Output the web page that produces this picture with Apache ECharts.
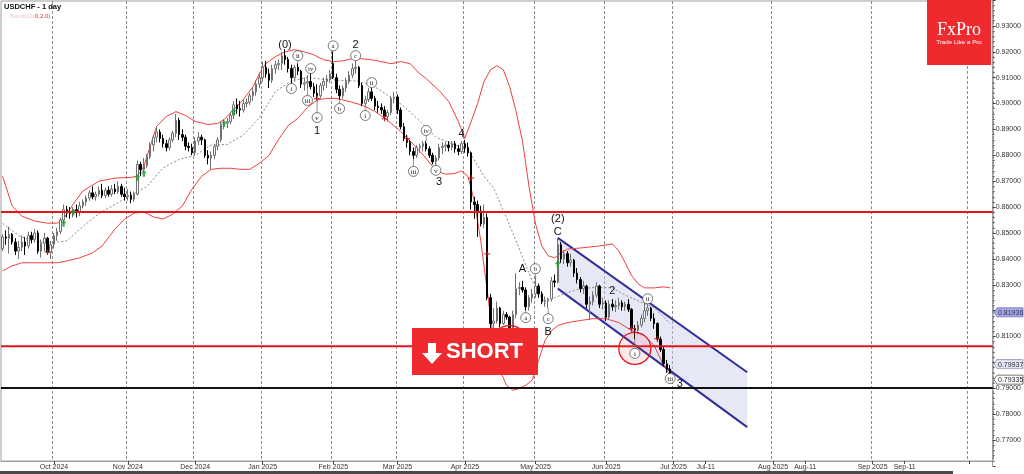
<!DOCTYPE html>
<html><head><meta charset="utf-8">
<script src="https://cdn.jsdelivr.net/npm/echarts@6/dist/echarts.min.js"></script>
<style>html,body{margin:0;padding:0;background:#fff}#c{width:1024px;height:474px}</style>
</head><body><div id="c"></div>
<script>
// ---------- categories (trading days, then calendar days in the future area) ----------
const holidays = ['2024-12-25','2025-01-01'];
const firstDay = '2024-09-09', lastBarDay = '2025-06-30', lastDay = '2025-10-08';
const tickLabels = {'2024-10-01':'Oct 2024','2024-11-01':'Nov 2024','2024-12-02':'Dec 2024','2025-01-02':'Jan 2025','2025-02-03':'Feb 2025','2025-03-03':'Mar 2025','2025-04-01':'Apr 2025','2025-05-01':'May 2025','2025-06-02':'Jun 2025','2025-07-01':'Jul 2025','2025-07-11':'Jul-11','2025-08-01':'Aug 2025','2025-08-11':'Aug-11','2025-09-01':'Sep 2025','2025-09-11':'Sep-11','2025-10-01':''};
const monthStarts = ['2024-10-01','2024-11-01','2024-12-02','2025-01-02','2025-02-03','2025-03-03','2025-04-01','2025-05-01','2025-06-02','2025-07-01','2025-08-01','2025-09-01','2025-10-01'];

// ---------- price data ----------
const opens = [.8440,.8485,.8480,.8495,.8465,.8430,.8445,.8465,.8450,.8490,
.8475,.8500,.8430,.8460,.8480,.8425,.8455,.8490,.8505,.8550,
.8590,.8580,.8575,.8590,.8580,.8605,.8620,.8635,.8655,.8640,
.8650,.8665,.8645,.8665,.8650,.8670,.8660,.8680,.8650,.8640,
.8645,.8630,.8650,.8765,.8745,.8760,.8795,.8840,.8870,.8890,
.8865,.8845,.8830,.8860,.8885,.8935,.8880,.8870,.8835,.8830,
.8810,.8855,.8870,.8860,.8800,.8790,.8800,.8835,.8860,.8920,
.8925,.8930,.8955,.8995,.8980,.8975,.9000,.9005,.9030,.9045,
.9075,.9100,.9140,.9115,.9090,.9135,.9150,.9155,.9185,.9170,
.9135,.9100,.9140,.9125,.9075,.9080,.9085,.9065,.9040,.9030,
.9070,.9085,.9095,.9155,.9100,.9055,.9030,.9060,.9085,.9110,
.9135,.9140,.9070,.9000,.9015,.9045,.9020,.8990,.8985,.8975,
.8950,.8965,.9020,.9025,.8975,.8910,.8865,.8850,.8815,.8800,
.8830,.8835,.8845,.8825,.8800,.8775,.8790,.8830,.8835,.8840,
.8830,.8845,.8825,.8815,.8845,.8830,.8810,.8620,.8610,.8585,
.8535,.8560,.8250,.8150,.8160,.8210,.8150,.8185,.8175,.8060,
.8185,.8285,.8290,.8280,.8215,.8250,.8265,.8295,.8265,.8235,
.8240,.8245,.8315,.8310,.8455,.8400,.8420,.8385,.8395,.8345,
.8320,.8285,.8295,.8225,.8235,.8260,.8295,.8225,.8230,.8175,
.8225,.8215,.8220,.8230,.8215,.8225,.8205,.8130,.8125,.8145,
.8170,.8200,.8210,.8170,.8150,.8090,.8050,.7995,.7975];
const highs = [.8495,.8510,.8525,.8500,.8480,.8470,.8490,.8485,.8505,.8505,
.8515,.8510,.8475,.8500,.8485,.8470,.8500,.8520,.8560,.8610,
.8605,.8600,.8600,.8610,.8620,.8630,.8645,.8665,.8680,.8660,
.8680,.8690,.8675,.8680,.8685,.8690,.8700,.8690,.8675,.8670,
.8660,.8660,.8780,.8775,.8790,.8805,.8850,.8880,.8910,.8900,
.8880,.8860,.8870,.8895,.8960,.8945,.8900,.8880,.8850,.8845,
.8870,.8890,.8880,.8865,.8820,.8815,.8845,.8870,.8930,.8940,
.8945,.8965,.9010,.9020,.9010,.9015,.9020,.9040,.9060,.9090,
.9120,.9160,.9165,.9135,.9150,.9165,.9170,.9200,.9210,.9180,
.9150,.9150,.9155,.9130,.9100,.9110,.9120,.9080,.9075,.9080,
.9100,.9110,.9130,.9200,.9115,.9070,.9070,.9100,.9125,.9155,
.9165,.9145,.9080,.9030,.9060,.9060,.9030,.9010,.9000,.8990,
.8975,.9030,.9045,.9035,.8985,.8925,.8880,.8860,.8830,.8840,
.8845,.8855,.8855,.8835,.8810,.8800,.8845,.8850,.8850,.8855,
.8855,.8855,.8840,.8855,.8860,.8850,.8815,.8640,.8625,.8605,
.8610,.8575,.8265,.8210,.8235,.8215,.8200,.8195,.8180,.8200,
.8345,.8310,.8315,.8290,.8260,.8285,.8330,.8305,.8275,.8255,
.8250,.8330,.8340,.8480,.8465,.8435,.8430,.8420,.8400,.8365,
.8330,.8315,.8300,.8255,.8275,.8310,.8300,.8250,.8240,.8240,
.8245,.8240,.8250,.8240,.8235,.8245,.8210,.8145,.8160,.8185,
.8240,.8225,.8215,.8190,.8155,.8100,.8060,.8010,.7990];
const lows = [.8430,.8455,.8420,.8455,.8415,.8400,.8430,.8415,.8440,.8460,
.8465,.8420,.8405,.8430,.8415,.8400,.8440,.8470,.8495,.8535,
.8560,.8555,.8560,.8560,.8565,.8595,.8605,.8625,.8630,.8625,
.8640,.8635,.8635,.8640,.8640,.8650,.8650,.8640,.8625,.8625,
.8615,.8620,.8645,.8720,.8735,.8750,.8785,.8815,.8850,.8850,
.8830,.8815,.8820,.8850,.8870,.8860,.8855,.8820,.8815,.8800,
.8800,.8840,.8840,.8790,.8765,.8745,.8785,.8820,.8850,.8900,
.8905,.8920,.8940,.8960,.8950,.8965,.8985,.8995,.9010,.9030,
.9060,.9085,.9100,.9060,.9080,.9115,.9130,.9130,.9150,.9120,
.9075,.9085,.9110,.9060,.9050,.9060,.9055,.9025,.9015,.9020,
.9050,.9060,.9080,.9095,.9040,.9015,.9020,.9045,.9075,.9100,
.9115,.9060,.8990,.8990,.9005,.9010,.8975,.8965,.8960,.8935,
.8930,.8955,.9000,.8960,.8900,.8855,.8830,.8800,.8785,.8790,
.8810,.8815,.8815,.8790,.8765,.8760,.8780,.8805,.8815,.8815,
.8820,.8810,.8800,.8805,.8810,.8795,.8590,.8555,.8485,.8525,
.8520,.8240,.8110,.8130,.8150,.8135,.8145,.8165,.8040,.8050,
.8170,.8260,.8270,.8200,.8200,.8230,.8250,.8250,.8225,.8215,
.8210,.8235,.8290,.8305,.8385,.8380,.8370,.8370,.8330,.8305,
.8270,.8265,.8210,.8165,.8220,.8250,.8210,.8205,.8160,.8165,
.8200,.8195,.8205,.8200,.8200,.8195,.8120,.8090,.8110,.8135,
.8155,.8180,.8160,.8130,.8080,.8040,.7985,.7960,.7925];
const closes = [.8485,.8480,.8495,.8465,.8430,.8445,.8465,.8450,.8490,.8475,
.8500,.8430,.8460,.8480,.8425,.8455,.8490,.8505,.8550,.8590,
.8580,.8575,.8590,.8580,.8605,.8620,.8635,.8655,.8640,.8650,
.8665,.8645,.8665,.8650,.8670,.8660,.8680,.8650,.8640,.8645,
.8630,.8650,.8765,.8745,.8760,.8795,.8840,.8870,.8890,.8865,
.8845,.8830,.8860,.8885,.8935,.8880,.8870,.8835,.8830,.8810,
.8855,.8870,.8860,.8800,.8790,.8800,.8835,.8860,.8920,.8925,
.8930,.8955,.8995,.8980,.8975,.9000,.9005,.9030,.9045,.9075,
.9100,.9140,.9115,.9090,.9135,.9150,.9155,.9185,.9170,.9135,
.9100,.9140,.9125,.9075,.9080,.9085,.9065,.9040,.9030,.9070,
.9085,.9095,.9115,.9100,.9055,.9030,.9060,.9085,.9110,.9135,
.9140,.9070,.9000,.9015,.9045,.9020,.8990,.8985,.8975,.8950,
.8965,.9020,.9025,.8975,.8910,.8865,.8850,.8815,.8800,.8830,
.8835,.8845,.8825,.8800,.8775,.8790,.8830,.8835,.8840,.8830,
.8845,.8825,.8815,.8845,.8830,.8810,.8620,.8610,.8585,.8535,
.8560,.8250,.8150,.8160,.8210,.8150,.8185,.8175,.8060,.8185,
.8285,.8290,.8280,.8215,.8250,.8265,.8295,.8265,.8235,.8240,
.8245,.8315,.8310,.8455,.8400,.8420,.8385,.8395,.8345,.8320,
.8285,.8295,.8225,.8235,.8260,.8295,.8225,.8230,.8175,.8225,
.8215,.8220,.8230,.8215,.8225,.8205,.8130,.8125,.8145,.8170,
.8200,.8210,.8170,.8150,.8090,.8050,.7995,.7975,.79335];

// Bollinger bands (20, 2.0): [bar index, value]
const bandUpper = [[0,.8719],[3,.8604],[6,.8565],[10,.8546],[14,.8538],[17,.8538],[19,.8554],[22,.8612],[25,.8662],[30,.8700],[35,.8712],[40,.8715],[42,.8719],[44,.8758],[46,.8835],[48,.8912],[51,.8950],[54,.8969],[57,.8954],[60,.8931],[64,.8919],[67,.8923],[69,.8938],[72,.8977],[75,.9015],[78,.9065],[80,.9115],[82,.9154],[85,.9181],[88,.9200],[91,.9208],[94,.9200],[97,.9188],[100,.9169],[103,.9162],[106,.9165],[109,.9173],[112,.9173],[115,.9169],[118,.9162],[121,.9154],[124,.9162],[127,.9154],[130,.9115],[132,.9096],[136,.9050],[139,.9008],[142,.8931],[144,.8865],[146,.8931],[148,.9000],[150,.9085],[152,.9130],[154,.9146],[156,.9131],[158,.9065],[160,.8969],[162,.8854],[164,.8681],[166,.8538],[168,.8450],[170,.8412],[172,.8404],[174,.8423],[176,.8438],[180,.8442],[186,.8450],[190,.8458],[192,.8431],[194,.8385],[196,.8335],[198,.8304],[200,.8288],[203,.8288],[206,.8292],[208,.8288]];
const bandLower = [[0,.8354],[3,.8373],[6,.8385],[10,.8385],[14,.8385],[17,.8385],[20,.8392],[24,.8404],[28,.8423],[31,.8450],[35,.8515],[38,.8554],[41,.8577],[44,.8581],[47,.8562],[50,.8554],[53,.8573],[56,.8604],[59,.8669],[62,.8719],[65,.8746],[68,.8750],[71,.8750],[74,.8746],[77,.8746],[80,.8769],[83,.8800],[86,.8862],[89,.8915],[92,.8943],[95,.8985],[98,.9014],[101,.9020],[104,.9020],[108,.9008],[112,.8994],[116,.8970],[120,.8935],[124,.8892],[128,.8842],[132,.8788],[135,.8740],[138,.8727],[141,.8730],[143,.8740],[145,.8719],[147,.8623],[149,.8469],[151,.8277],[153,.8085],[155,.7969],[157,.7912],[159,.7892],[161,.7900],[163,.7912],[165,.7931],[167,.8008],[169,.8085],[171,.8123],[173,.8142],[176,.8154],[180,.8162],[184,.8169],[188,.8169],[192,.8154],[196,.8123],[200,.8104],[203,.8065],[206,.7988],[208,.7950]];
const bandMiddle = [[0,.8537],[5,.8490],[10,.8466],[15,.8462],[20,.8470],[25,.8525],[30,.8575],[35,.8610],[40,.8646],[45,.8680],[50,.8752],[55,.8784],[60,.8800],[65,.8840],[70,.8842],[75,.8878],[80,.8945],[85,.9046],[90,.9088],[95,.9100],[100,.9094],[105,.9090],[110,.9087],[115,.9072],[120,.9033],[125,.8990],[130,.8932],[135,.8870],[140,.8845],[145,.8823],[150,.8720],[153,.8673],[157,.8560],[160,.8469],[165,.8315],[169,.8227],[172,.8250],[176,.8270],[180,.8285],[185,.8290],[190,.8288],[194,.8260],[198,.8238],[203,.8212],[208,.8150]];

// levels, channel, marks
const hRedLevels = [.8581, .8063];
const hBlackLevels = [.7901];
const chanIdx = [173, 232];
const chanUpper = [.8481, .7962];
const chanLower = [.8285, .7750];
const circIdx = [197, 158];
const circVal = [.8054, .8073];
const tagVals = [.81936, .79937, .79335];
const greenIdx = [19,22,42,44,69,72,173];
const greenVal = [.8538,.8581,.8715,.8731,.8923,.8969,.8381];
const redIdx = [14,98,119,126,146,151,196,204];
const redVal = [.8427,.9019,.8942,.8865,.8712,.8419,.8131,.8092];

// wave labels
const waveText = ['i','ii','iii','iv','v','a','b','c','i','ii','iii','iv','v','a','b','c','i','ii','iii'];
const waveIdx = [90,92,95,96,98,103,105,110,113,115,128,132,135,163,166,170,197,201,208];
const waveVal = [.9058,.9185,.9012,.9135,.8946,.9223,.8981,.9185,.8954,.9081,.8738,.8896,.8742,.8173,.8362,.8169,.8035,.8246,.7938];
const waveAnchor = [.9075,.9155,.9060,.9120,.9015,.9200,.9015,.9165,.8990,.9060,.8785,.8855,.8770,.8200,.8330,.8210,.8090,.8225,.7938];
const bigText = ['(0)','1','2','3','4','A','B','C','(2)','2','3'];
const bigIdx = [88,98,110,136,143,162,170,173,173,190,211];
const bigVal = [.9227,.8896,.9227,.8696,.8881,.8362,.8119,.8504,.8554,.8277,.7915];

// ---------- build categories ----------
const cats = [];
{
  let t = Date.parse(firstDay + 'T00:00:00Z');
  const tLast = Date.parse(lastBarDay + 'T00:00:00Z'), tEnd = Date.parse(lastDay + 'T00:00:00Z');
  while (t <= tEnd) {
    const d = new Date(t), s = d.toISOString().slice(0,10), wd = d.getUTCDay();
    if (t > tLast || (wd !== 0 && wd !== 6 && holidays.indexOf(s) < 0)) cats.push(s);
    t += 86400000;
  }
}
const candles = opens.map((o,i)=>[o, closes[i], lows[i], highs[i]]);
const levels = hRedLevels.map(v=>[0, v, 0]).concat(hBlackLevels.map(v=>[0, v, 1]));

const chart = echarts.init(document.getElementById('c'), null, {renderer:'canvas'});
const RED = '#ee2a2f';

const option = {
  animation: false,
  backgroundColor: '#ffffff',
  grid: [
    {left: 1, top: -2, width: 992, height: 468},
    {left: 1, top: 1, width: 992, height: 460, show: true, borderColor: '#9d9d9d', borderWidth: 1, backgroundColor: 'transparent'}
  ],
  xAxis: [
    {type:'category', gridIndex:0, data:cats, boundaryGap:true, show:false},
    {type:'category', gridIndex:1, data:cats, boundaryGap:true,
     axisLine:{show:true, lineStyle:{color:'#9d9d9d'}},
     axisTick:{show:true, alignWithLabel:true, interval:(i,v)=> v in tickLabels, length:3, lineStyle:{color:'#444'}},
     axisLabel:{show:true, interval:(i,v)=> v in tickLabels, formatter:v=> tickLabels[v] || '', fontSize:7, color:'#333', margin:3, fontFamily:'Liberation Sans'},
     splitLine:{show:true, interval:(i,v)=> monthStarts.indexOf(v) >= 0, lineStyle:{color:'#8c8c8c', type:[3,2], width:1}}}
  ],
  yAxis: [
    {type:'value', gridIndex:0, position:'right', min:0.76, max:0.94, interval:0.01, scale:true,
     axisLine:{show:true, lineStyle:{color:'#9d9d9d'}},
     axisTick:{show:true, length:3, lineStyle:{color:'#444'}},
     minorTick:{show:true, splitNumber:5, length:2, lineStyle:{color:'#666'}},
     axisLabel:{showMinLabel:false, showMaxLabel:false, formatter:v=>v.toFixed(5), fontSize:7, color:'#333', margin:3, fontFamily:'Liberation Sans'},
     splitLine:{show:false}},
    {type:'value', gridIndex:1, min:0, max:1, show:false}
  ],
  series: [
    { // channel fill
      type:'custom', xAxisIndex:0, yAxisIndex:0, z:1, silent:true,
      data:[[chanIdx[0], chanUpper[0]]],
      renderItem:(p, api)=>{
        const a = api.coord([chanIdx[0], chanUpper[0]]), b = api.coord([chanIdx[1], chanUpper[1]]);
        const c = api.coord([chanIdx[1], chanLower[1]]), d = api.coord([chanIdx[0], chanLower[0]]);
        return {type:'group', children:[
          {type:'polygon', shape:{points:[a,b,c,d]}, style:{fill:'rgba(200,204,235,0.45)', stroke:null}},
          {type:'line', shape:{x1:a[0],y1:a[1],x2:b[0],y2:b[1]}, style:{stroke:'#2d2f9a', lineWidth:2}},
          {type:'line', shape:{x1:d[0],y1:d[1],x2:c[0],y2:c[1]}, style:{stroke:'#2d2f9a', lineWidth:2}}
        ]};
      }
    },
    {type:'line', data:bandMiddle, symbol:'none', z:2, lineStyle:{color:'#8a8a8a', width:1, type:[2,2]}},
    {type:'line', data:bandUpper, symbol:'none', z:2, lineStyle:{color:'#f04040', width:1}},
    {type:'line', data:bandLower, symbol:'none', z:2, lineStyle:{color:'#f04040', width:1}},
    {type:'candlestick', data:candles, barWidth:2, z:3,
     itemStyle:{color:'#ffffff', color0:'#000000', borderColor:'#707070', borderColor0:'#000000', borderWidth:1}},
    { // horizontal levels across the whole plot
      type:'custom', z:4, silent:true, data: levels,
      renderItem:(p, api)=>{
        const y = api.coord([0, api.value(1)])[1];
        const cs = p.coordSys;
        return {type:'line', shape:{x1:cs.x, y1:y, x2:cs.x+cs.width, y2:y},
          style:{stroke: api.value(2) ? '#111111' : '#e8141c', lineWidth:2}};
      }
    },
    { // red circles
      type:'custom', z:4, silent:true, data: circIdx.map((x,i)=>[x, circVal[i]]),
      renderItem:(p, api)=>{
        const c = api.coord([api.value(0), api.value(1)]);
        const r = p.dataIndex === 0 ? 16 : 18;
        return {type:'circle', shape:{cx:c[0], cy:c[1], r:r}, style:{fill:'rgba(240,80,80,0.12)', stroke:'#e8141c', lineWidth:1.3}};
      }
    },
    {type:'scatter', z:5, silent:true, data: greenIdx.map((x,i)=>[x, greenVal[i]]),
     symbol:'path://M5,0 L10,5 L7,5 L7,10 L3,10 L3,5 L0,5 Z', symbolSize:[6,7], itemStyle:{color:'#1f9a2a'}},
    {type:'scatter', z:5, silent:true, data: redIdx.map((x,i)=>[x, redVal[i]]),
     symbol:'path://M4,0h2v4h4v2h-4v4h-2v-4h-4v-2h4z', symbolSize:6, itemStyle:{color:'#d01818'}},
    { // circled wave labels
      type:'custom', z:6, silent:true, data: waveIdx.map((x,i)=>[x, waveVal[i], waveAnchor[i]]),
      renderItem:(p, api)=>{
        const c = api.coord([api.value(0), api.value(1)]);
        const a = api.coord([api.value(0), api.value(2)]);
        const r = 5;
        const dir = a[1] < c[1] ? -1 : 1;
        const kids = [];
        if (Math.abs(a[1]-c[1]) > r) kids.push({type:'line', shape:{x1:c[0], y1:c[1]+dir*r, x2:a[0], y2:a[1]}, style:{stroke:'#777', lineWidth:0.8}});
        kids.push({type:'circle', shape:{cx:c[0], cy:c[1], r:r}, style:{fill:'#ffffff', stroke:'#555', lineWidth:0.8}});
        kids.push({type:'text', style:{text:waveText[p.dataIndex], x:c[0], y:c[1]+0.5, align:'center', verticalAlign:'middle', font:'7px "Liberation Serif"', fill:'#222'}});
        return {type:'group', children:kids};
      }
    },
    { // wave degree labels
      type:'custom', z:6, silent:true, data: bigIdx.map((x,i)=>[x, bigVal[i]]),
      renderItem:(p, api)=>{
        const c = api.coord([api.value(0), api.value(1)]);
        return {type:'text', style:{text:bigText[p.dataIndex], x:c[0], y:c[1], align:'center', verticalAlign:'middle', font:'11px "Liberation Sans"', fill:'#111'}};
      }
    }
  ]
};
chart.setOption(option);

// overlay graphics (logo, SHORT box, header, price tags)
const gr = [];
gr.push({type:'text', left:4, top:3, z:50, style:{text:'USDCHF - 1 day', font:'bold 7.5px "Liberation Sans"', fill:'#111'}});
gr.push({type:'text', left:10, top:13, z:50, style:{text:'Bands(20,', font:'6px "Liberation Sans"', fill:'#f6caca'}});
gr.push({type:'text', left:35, top:13, z:50, style:{text:'0,2.0)', font:'6px "Liberation Sans"', fill:'#e83030'}});
// FxPro logo
gr.push({type:'rect', z:50, shape:{x:927, y:0, width:64, height:65}, style:{fill:RED}});
gr.push({type:'text', z:51, style:{text:'FxPro', x:959, y:30, align:'center', verticalAlign:'middle', font:'18px "Liberation Serif"', fill:'#ffffff'}});
gr.push({type:'text', z:51, style:{text:'Trade Like a Pro', x:959, y:42, align:'center', verticalAlign:'middle', font:'6.2px "Liberation Sans"', fill:'#ffffff'}});
// SHORT box
gr.push({type:'rect', z:50, shape:{x:412, y:328, width:126, height:47}, style:{fill:RED}});
gr.push({type:'polygon', z:51, shape:{points:[[428,343],[436,343],[436,353],[442,353],[432,364],[422,353],[428,353]]}, style:{fill:'#ffffff'}});
gr.push({type:'text', z:51, style:{text:'SHORT', x:446, y:352, verticalAlign:'middle', font:'bold 22px "Liberation Sans"', fill:'#ffffff'}});
// price tags on the axis
const tagStyles = [{fill:'#a9abdc', stroke:'#6d70b8', text:'#2a2a6a'}, {fill:'#e2e3f2', stroke:'#9a9ab8', text:'#333'}, {fill:'#ffffff', stroke:'#555', text:'#222'}];
tagVals.forEach((v,i)=>{
  const y = chart.convertToPixel({yAxisIndex:0}, v);
  const s = tagStyles[i];
  gr.push({type:'polygon', z:50, shape:{points:[[994,y],[997,y-4.5],[1023,y-4.5],[1023,y+4.5],[997,y+4.5]]}, style:{fill:s.fill, stroke:s.stroke, lineWidth:0.8}});
  gr.push({type:'text', z:51, style:{text:v.toFixed(5), x:998, y:y+0.5, verticalAlign:'middle', font:'7px "Liberation Sans"', fill:s.text}});
});
// bottom window bar
gr.push({type:'rect', z:50, shape:{x:0, y:471, width:953, height:3}, style:{fill:'#4a4a4a'}});
chart.setOption({graphic: gr});
</script>
</body></html>
